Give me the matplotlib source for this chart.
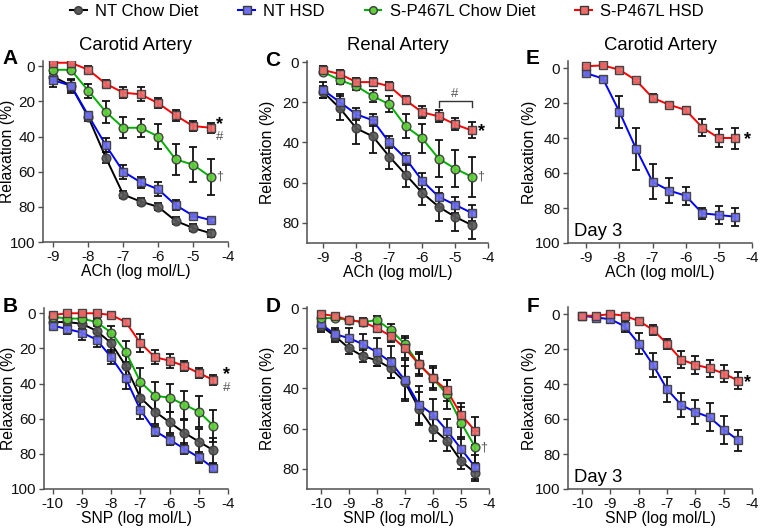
import matplotlib
matplotlib.use("Agg")
import matplotlib.pyplot as plt
from matplotlib.lines import Line2D
import numpy as np

plt.rcParams['font.family'] = ['Liberation Sans', 'DejaVu Sans']

# ---------------- data ----------------
ach_x = [-9, -8.5, -8, -7.5, -7, -6.5, -6, -5.5, -5, -4.5]
snp_x = [-10, -9.5, -9, -8.5, -8, -7.5, -7, -6.5, -6, -5.5, -5, -4.5]

series_names = ["NT Chow Diet", "NT HSD", "S-P467L Chow Diet", "S-P467L HSD"]

# Panel A: carotid, ACh
A_nt_chow = [6, 11, 29, 52, 73, 77, 80, 88, 92, 95]
A_nt_chow_err = [2, 3, 2, 3, 2, 2, 2, 2, 2, 2]
A_nt_hsd = [8, 11, 28, 45, 60, 66, 70, 79, 85, 87.5]
A_nt_hsd_err = [4, 4, 2, 4, 4, 3, 4, 3, 1, 1]
A_sp_chow = [2, 2, 14, 26, 35, 35, 40, 53, 56, 63]
A_sp_chow_err = [1, 1, 4, 6, 6, 5, 7, 9, 10, 10]
A_sp_hsd = [-2, -2, 2, 10, 15, 16, 21, 28, 34, 35]
A_sp_hsd_err = [1, 1, 2, 2, 3, 4, 3, 3, 3, 3]

# Panel B: carotid, SNP
B_nt_chow = [5, 5, 6, 10, 17, 30, 48, 56, 62, 68, 73, 78]
B_nt_chow_err = [1, 2, 3, 4, 5, 6, 7, 7, 6, 7, 7, 7]
B_nt_hsd = [7, 9, 11, 15, 25, 37, 55, 67, 72, 77, 82, 88]
B_nt_hsd_err = [2, 3, 4, 4, 4, 6, 5, 3, 3, 3, 3, 2]
B_sp_chow = [2, 3, 3, 5, 11, 22, 39, 47, 48, 52, 56, 64]
B_sp_chow_err = [1, 1, 1, 2, 4, 6, 8, 8, 8, 8, 9, 9]
B_sp_hsd = [1, 0, 0, 0, 1, 5, 17, 25, 27, 30, 34, 38]
B_sp_hsd_err = [1, 1, 1, 1, 1, 2, 5, 4, 4, 3, 3, 3]

# Panel C: renal, ACh
C_nt_chow = [15, 23, 33, 37, 47, 56, 65, 72, 77, 81]
C_nt_chow_err = [3, 6, 8, 8, 6, 6, 6, 7, 7, 7]
C_nt_hsd = [14, 20, 26, 29, 40, 48, 59, 67, 71, 75]
C_nt_hsd_err = [4, 4, 3, 3, 3, 3, 4, 5, 4, 4]
C_sp_chow = [5, 9, 12, 17, 21, 32, 38, 48, 53, 57]
C_sp_chow_err = [1, 2, 2, 3, 4, 6, 7, 9, 9, 10]
C_sp_hsd = [4, 6, 10, 10, 12, 19, 25, 27, 31, 34]
C_sp_hsd_err = [2, 2, 2, 2, 2, 2, 3, 3, 3, 4]

# Panel D: renal, SNP
D_nt_chow = [9, 14, 20, 24, 26, 30, 37, 50, 60, 66, 76, 82]
D_nt_chow_err = [3, 3, 3, 3, 3, 5, 8, 8, 6, 5, 4, 4]
D_nt_hsd = [8, 13, 15, 18, 22, 27, 36, 48, 53, 61, 70, 79]
D_nt_hsd_err = [3, 3, 5, 5, 7, 8, 10, 9, 8, 6, 6, 6]
D_sp_chow = [5, 5, 6, 7, 6, 11, 18, 28, 35, 43, 57, 69]
D_sp_chow_err = [1, 1, 1, 2, 2, 3, 4, 6, 6, 7, 8, 8]
D_sp_hsd = [3, 4, 6, 7, 10, 14, 20, 28, 35, 41, 53, 61]
D_sp_hsd_err = [1, 1, 1, 1, 2, 3, 5, 5, 5, 5, 6, 7]

# Panel E: carotid day 3, ACh
E_nt_hsd = [3, 6, 25, 46, 65, 70, 73, 83, 84, 85]
E_nt_hsd_err = [1, 1, 9, 12, 10, 7, 5, 3, 5, 5]
E_sp_hsd = [-1, -1.5, 1, 7, 17, 21, 24, 34, 40, 40]
E_sp_hsd_err = [1, 1, 1, 1, 2, 1, 2, 5, 5, 6]

# Panel F: carotid day 3, SNP
F_nt_hsd = [1, 2, 3, 7, 17, 29, 43, 52, 56, 59, 66, 72]
F_nt_hsd_err = [1, 1, 2, 3, 6, 7, 7, 7, 7, 8, 8, 6]
F_sp_hsd = [1, 1, 0, 1, 4, 9, 17, 26, 29, 31, 34, 38]
F_sp_hsd_err = [1, 1, 1, 1, 1, 3, 3, 5, 5, 5, 5, 5]

# ---------------- styles ----------------
STY = {
    "NT Chow Diet": dict(line="#000000", face="#5a5a5a", marker="o"),
    "NT HSD": dict(line="#0000ff", face="#6f6ff0", marker="s"),
    "S-P467L Chow Diet": dict(line="#00b000", face="#5fcf3a", marker="o"),
    "S-P467L HSD": dict(line="#ff0000", face="#f06a6a", marker="s"),
}
EDGE = "#3a3a3a"
SPINE = "#505050"

W, H = 760, 528
fig = plt.figure(figsize=(W / 100, H / 100), dpi=100)


def rect(l, t, r, b):
    return [l / W, 1 - b / H, (r - l) / W, (b - t) / H]


def draw(ax, x, y, e, name):
    s = STY[name]
    ax.errorbar(x, y, yerr=e, fmt="none", ecolor="#111111", elinewidth=1.3,
                capsize=3.2, capthick=1.3, zorder=2)
    ax.plot(x, y, color=s["line"], lw=1.4, zorder=3)
    ax.plot(x, y, linestyle="none", marker=s["marker"], markersize=6.3,
            markerfacecolor=s["face"], markeredgecolor=EDGE, markeredgewidth=1.0,
            alpha=0.92, zorder=4)


def style(ax, xlim, xticks, ylim, yticks, xlabel, ylab_x):
    ax.set_xlim(*xlim)
    ax.set_ylim(*ylim)
    ax.set_xticks(xticks)
    ax.set_xticklabels([str(t) for t in xticks])
    ax.set_yticks(yticks)
    for sp in ["top", "right"]:
        ax.spines[sp].set_visible(False)
    for sp in ["left", "bottom"]:
        ax.spines[sp].set_color(SPINE)
        ax.spines[sp].set_linewidth(1.1)
    ax.tick_params(axis="both", colors=SPINE, length=3.5, width=1.0,
                   labelsize=11, labelcolor="#111111", pad=2)
    ax.set_xlabel(xlabel, fontsize=11.3, labelpad=0)
    ax.set_ylabel("Relaxation (%)", fontsize=11.3)
    ax.yaxis.set_label_coords(ylab_x, 0.5)


def letter(x, y, s):
    fig.text(x / W, 1 - y / H, s, fontsize=15, fontweight="bold",
             ha="center", va="center")


def star(ax, x, y):
    ax.text(x, y, "*", fontsize=13, fontweight="bold", ha="center", va="center")


def hashmark(ax, x, y):
    ax.text(x, y, "#", fontsize=9.5, color="#555555", ha="center", va="center")


def dagger(ax, x, y):
    ax.text(x, y, "†", fontsize=9, color="#555555", ha="center", va="center")


ach_ticks = [-9, -8, -7, -6, -5, -4]
snp_ticks = [-10, -9, -8, -7, -6, -5, -4]

# ---- A ----
axA = fig.add_axes(rect(43, 61, 228, 242))
draw(axA, ach_x, A_nt_chow, A_nt_chow_err, "NT Chow Diet")
draw(axA, ach_x, A_nt_hsd, A_nt_hsd_err, "NT HSD")
draw(axA, ach_x, A_sp_chow, A_sp_chow_err, "S-P467L Chow Diet")
draw(axA, ach_x, A_sp_hsd, A_sp_hsd_err, "S-P467L HSD")
style(axA, (-9.3, -4), ach_ticks, (100, -3), [0, 20, 40, 60, 80, 100], "ACh (log mol/L)", -0.15)
axA.set_title("Carotid Artery", fontsize=13.3, pad=8)
star(axA, -4.23, 33)
hashmark(axA, -4.23, 40.5)
dagger(axA, -4.23, 63)

# ---- B ----
axB = fig.add_axes(rect(44, 308, 228, 489))
draw(axB, snp_x, B_nt_chow, B_nt_chow_err, "NT Chow Diet")
draw(axB, snp_x, B_nt_hsd, B_nt_hsd_err, "NT HSD")
draw(axB, snp_x, B_sp_chow, B_sp_chow_err, "S-P467L Chow Diet")
draw(axB, snp_x, B_sp_hsd, B_sp_hsd_err, "S-P467L HSD")
style(axB, (-10.3, -4), snp_ticks, (100, -3), [0, 20, 40, 60, 80, 100], "SNP (log mol/L)", -0.15)
star(axB, -4.05, 35)
hashmark(axB, -4.05, 42.5)

# ---- C ----
axC = fig.add_axes(rect(307, 61, 488, 243))
draw(axC, ach_x, C_nt_chow, C_nt_chow_err, "NT Chow Diet")
draw(axC, ach_x, C_nt_hsd, C_nt_hsd_err, "NT HSD")
draw(axC, ach_x, C_sp_chow, C_sp_chow_err, "S-P467L Chow Diet")
draw(axC, ach_x, C_sp_hsd, C_sp_hsd_err, "S-P467L HSD")
style(axC, (-9.5, -4), ach_ticks, (90, -0.5), [0, 20, 40, 60, 80], "ACh (log mol/L)", -0.175)
axC.set_title("Renal Artery", fontsize=13.3, pad=8)
star(axC, -4.2, 34.5)
dagger(axC, -4.22, 57)
axC.plot([-5.5, -5.5, -4.5, -4.5], [22.5, 19.5, 19.5, 22.5], color="#333333", lw=1.0)
hashmark(axC, -5.0, 16)

# ---- D ----
axD = fig.add_axes(rect(307, 307, 489, 489))
draw(axD, snp_x, D_nt_chow, D_nt_chow_err, "NT Chow Diet")
draw(axD, snp_x, D_nt_hsd, D_nt_hsd_err, "NT HSD")
draw(axD, snp_x, D_sp_chow, D_sp_chow_err, "S-P467L Chow Diet")
draw(axD, snp_x, D_sp_hsd, D_sp_hsd_err, "S-P467L HSD")
style(axD, (-10.5, -4), snp_ticks, (90, -0.5), [0, 20, 40, 60, 80], "SNP (log mol/L)", -0.175)
dagger(axD, -4.2, 69.5)

# ---- E ----
axE = fig.add_axes(rect(568, 61, 752, 243))
draw(axE, ach_x, E_nt_hsd, E_nt_hsd_err, "NT HSD")
draw(axE, ach_x, E_sp_hsd, E_sp_hsd_err, "S-P467L HSD")
style(axE, (-9.55, -4), ach_ticks, (100, -4), [0, 20, 40, 60, 80, 100], "ACh (log mol/L)", -0.168)
axE.set_title("Carotid Artery", fontsize=13.3, pad=8)
star(axE, -4.15, 41)
axE.text(0.035, 0.015, "Day 3", transform=axE.transAxes, fontsize=13.3, ha="left", va="bottom")

# ---- F ----
axF = fig.add_axes(rect(568, 307, 752, 489))
draw(axF, snp_x, F_nt_hsd, F_nt_hsd_err, "NT HSD")
draw(axF, snp_x, F_sp_hsd, F_sp_hsd_err, "S-P467L HSD")
style(axF, (-10.5, -4), snp_ticks, (100, -4), [0, 20, 40, 60, 80, 100], "SNP (log mol/L)", -0.168)
star(axF, -4.15, 39)
axF.text(0.035, 0.015, "Day 3", transform=axF.transAxes, fontsize=13.3, ha="left", va="bottom")

# panel letters
letter(10, 58, "A")
letter(10, 306, "B")
letter(273, 61, "C")
letter(273, 307, "D")
letter(533, 58, "E")
letter(533, 306, "F")

# legend
handles = []
for n in series_names:
    s = STY[n]
    handles.append(Line2D([0], [0], color=s["line"], lw=1.5, marker=s["marker"],
                          markersize=5.5, markerfacecolor=s["face"],
                          markeredgecolor=EDGE, markeredgewidth=1.0))
fig.legend(handles, series_names, loc="center", bbox_to_anchor=(0.509, 1 - 11 / H),
           ncol=4, frameon=False, fontsize=12, handlelength=1.0, handletextpad=0.5,
           columnspacing=2.4, borderaxespad=0)

fig.savefig("out.png", dpi=100)
